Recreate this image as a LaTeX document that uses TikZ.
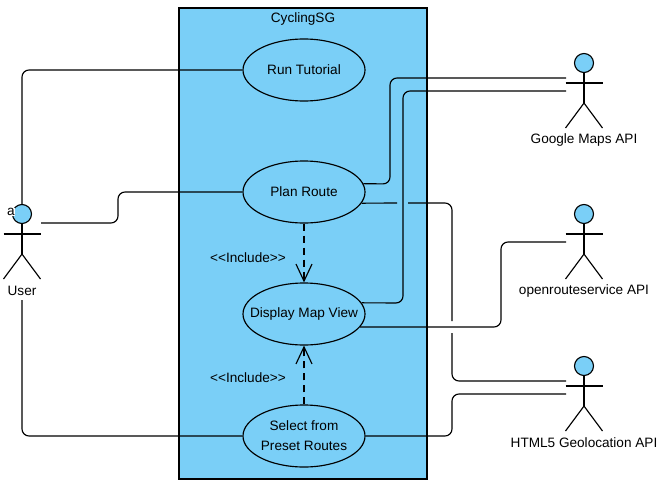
\documentclass[tikz,border=0pt]{standalone}
\usepackage{fontspec}
\setmainfont{Liberation Sans}
\usetikzlibrary{arrows.meta,shapes.geometric}
\definecolor{umlblue}{HTML}{7ACFF7}
\tikzset{
    usecase/.style={draw,ellipse,fill=umlblue,minimum width=122pt,minimum height=62pt,inner sep=-15pt,align=center},
    actorhead/.style={draw,circle,fill=umlblue,minimum size=19pt,inner sep=0pt},
    assoc/.style={rounded corners=7pt},
    include/.style={dash pattern=on 7pt off 5pt,-{Straight Barb[length=17pt,width=16pt]}},
}
\begin{document}
\begin{tikzpicture}[x=1pt,y=-1pt,line width=1.15pt,font=\fontsize{13.6}{16}\selectfont]
        \useasboundingbox (0,0) rectangle (666,490);
        %draw system box
        \node[draw,rectangle,fill=umlblue,minimum width=248pt,minimum height=471pt,inner sep=0pt] (system) at (303,243.5) {};
        \node (title) at (303,18.5) {CyclingSG};
        %draw use cases
        \node[usecase] (tutorial) at (304,70) {Run Tutorial};
        \node[usecase] (plan) at (304,192) {Plan Route};
        \node[usecase] (display) at (304,314) {Display Map View};
        \node[usecase] (select) at (304,436) {Select from\\[4pt]Preset Routes};
        %draw actors
        \foreach \name/\x/\y/\lbl in {user/22/214/User,google/584/63/Google Maps API,ors/584/214/openrouteservice API,html/584/366/HTML5 Geolocation API}{
            \node[actorhead] (\name) at (\x,\y) {};
            \draw (\name.south) -- ++(0,30) coordinate (\name hip);
            \draw (\x-18.5,\y+20) -- (\x+18.5,\y+20);
            \draw (\x-18.5,\y+65) -- (\name hip) -- (\x+18.5,\y+65);
            \node (\name label) at (\x,\y+76.5) {\lbl};
        }
        %stray label beside the user
        \node[fill=white,inner sep=0pt] (stray) at (11,212) {a};
        %free ends of the connectors
        \coordinate (userR) at (41,223);
        \coordinate (userB) at (22,300);
        \coordinate (googleA) at (566,78);
        \coordinate (googleB) at (566,91);
        \coordinate (orsA) at (566,242);
        \coordinate (htmlA) at (566,381);
        \coordinate (htmlB) at (566,394);
        \coordinate (gapA) at (397,203);
        \coordinate (gapB) at (408,203);
        \coordinate (gapC) at (452,321);
        \coordinate (gapD) at (452,333);
        %draw connectors
        \draw[assoc] (user.north) |- (tutorial.west);
        \draw[assoc] (userR) -- (118,223) -- (118,192) -- (plan.west);
        \draw[assoc] (userB) |- (select.west);
        \draw[assoc] (plan.8) -- (390,184) -- (390,78) -- (googleA);
        \draw[assoc] (display.11) -- (403,303) -- (403,91) -- (googleB);
        \draw[assoc] (plan.-11) -- (gapA);
        \draw[assoc] (gapB) -- (452,203) -- (gapC);
        \draw[assoc] (gapD) -- (452,381) -- (htmlA);
        \draw[assoc] (display.-13) -- (501,327) -- (501,242) -- (orsA);
        \draw[assoc] (select.east) -- (452,436) -- (452,394) -- (htmlB);
        %draw include arrows
        \draw[include] (plan.south) -- (display.north);
        \draw[include] (select.north) -- (display.south);
        \node (inclA) at (248,258) {<{}<Include>{}>};
        \node (inclB) at (248,378) {<{}<Include>{}>};
      \end{tikzpicture}
\end{document}
